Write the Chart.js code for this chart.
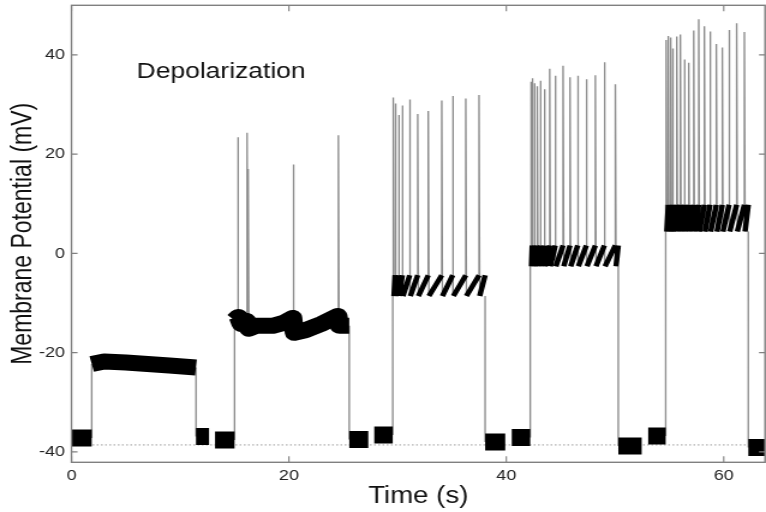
<!DOCTYPE html>
<html>
<head>
<meta charset="utf-8">
<script src="https://cdn.jsdelivr.net/npm/chart.js@4.4.1/dist/chart.umd.min.js"></script>
<style>
  html, body { margin: 0; padding: 0; background: #fff; }
  #wrap { width: 766px; height: 512px; }
  /* the source figure is stretched sideways, so the canvas is drawn narrower and widened */
  #trace { width: 766px; height: 512px; }
</style>
</head>
<body>
<div id="wrap"><canvas id="trace" width="638" height="512" style="width:766px;height:512px"></canvas></div>
<script>
/* --------------- Axes --------------------- */
const xTicks = [0, 20, 40, 60];
const yTicks = [-40, -20, 0, 20, 40];
const xRange = [0, 63.8];
const yRange = [-42.1, 50];
const baselineLevel = -38.6; // dotted reference line

/* --------------- Resting pieces (s, s, mV) --------------------- */
const restStart = [0, 11.45, 13.2, 25.55, 27.85, 38.05, 40.5, 50.3, 53.05, 62.26];
const restEnd = [1.86, 12.65, 15.0, 27.3, 29.55, 39.9, 42.2, 52.45, 54.66, 63.8];
const restLevel = [-37.2, -36.9, -37.6, -37.5, -36.6, -38.0, -37.1, -38.8, -36.8, -39.1];

/* --------------- Current steps --------------------- */
const stepOn = [1.86, 15.0, 29.55, 42.2, 54.66];
const stepOff = [11.45, 25.55, 38.05, 50.3, 62.26];
const plateauCrest = [-22.0, -13.0, -4.4, 1.6, 9.8];
const plateauTrough = [-23.0, -15.5, -8.6, -2.6, 4.4];

/* --------------- Quiet plateaus (no sawtooth) --------------------- */
const quietT = [
  [1.86, 3, 5, 7, 9, 11.45],
  [15.0, 15.35, 15.6, 16.1, 16.3, 17.0, 18.5, 19.5, 20.35, 20.5, 21.5, 23.0, 24.5, 24.65, 25.55],
];
const quietV = [
  [-22.3, -21.8, -22.0, -22.3, -22.6, -23.0],
  [-13.5, -12.8, -14.2, -13.6, -15.2, -14.6, -14.6, -14.0, -13.0, -16.0, -15.5, -14.2, -12.6, -14.6, -14.6],
];

/* --------------- Spikes (s, mV) --------------------- */
const spikeT = [
  15.3, 16.15, 16.25, 20.4, 24.55,
  29.6, 29.79, 30.1, 30.43, 31.11, 31.85, 32.82, 34.06, 35.07, 36.27, 37.49,
  42.25, 42.38, 42.58, 42.85, 43.13, 43.5, 43.99, 44.5, 45.22, 45.86, 46.57, 47.36, 48.19, 49.02, 50.03,
  54.7, 54.9, 55.12, 55.3, 55.68, 56.01, 56.38, 56.78, 57.24, 57.7, 58.22, 58.74, 59.32, 59.87, 60.49, 61.19, 61.9,
];
const spikePeak = [
  23.4, 24.3, 17.0, 17.9, 23.8,
  31.4, 30.2, 27.9, 29.8, 31.0, 28.1, 28.7, 30.8, 31.7, 31.2, 31.9,
  34.6, 35.3, 34.3, 33.7, 34.8, 33.1, 37.2, 35.8, 37.8, 35.5, 35.8, 35.1, 35.9, 38.5, 34.1,
  43.0, 43.8, 43.5, 41.3, 43.7, 44.1, 39.1, 38.4, 44.9, 47.2, 45.8, 44.7, 42.2, 41.5, 45.0, 46.4, 44.6,
];

/* --------------- Build line data --------------------- */
const plateauOf = (t) => stepOn.findIndex((on, p) => t >= on && t <= stepOff[p]);
const restBefore = (t) => restLevel[restEnd.findIndex((e) => Math.abs(e - t) < 0.01)];
const restAfter = (t) => restLevel[restStart.findIndex((s) => Math.abs(s - t) < 0.01)];

// thick black band for the noisy resting parts
const restBand = [];
restStart.forEach((s, i) => {
  restBand.push({ x: s, y: restLevel[i] }, { x: restEnd[i], y: restLevel[i] }, { x: restEnd[i], y: null });
});

// thick band for the quiet plateaus
const quietBand = [];
quietT.forEach((ts, p) => {
  ts.forEach((t, k) => quietBand.push({ x: t, y: quietV[p][k] }));
  quietBand.push({ x: ts[ts.length - 1], y: null });
});

// sawtooth for the firing plateaus: one rising stroke after each spike
const sawBand = [];
for (let p = 2; p < stepOn.length; p++) {
  const times = spikeT.filter((t) => plateauOf(t) === p);
  times.forEach((t, k) => {
    const next = k + 1 < times.length ? times[k + 1] : stepOff[p];
    sawBand.push({ x: t + 0.06, y: plateauTrough[p] }, { x: next, y: plateauCrest[p] }, { x: next, y: null });
  });
}

// thin lines: steps and spikes
const thin = [];
stepOn.forEach((on, p) => {
  const startLvl = p < 2 ? quietV[p][0] : plateauCrest[p];
  const endLvl = p < 2 ? quietV[p][quietV[p].length - 1] : plateauTrough[p];
  thin.push({ x: on, y: restBefore(on) }, { x: on, y: startLvl }, { x: on, y: null });
  thin.push({ x: stepOff[p], y: endLvl }, { x: stepOff[p], y: restAfter(stepOff[p]) }, { x: stepOff[p], y: null });
});
spikeT.forEach((t, i) => {
  const p = plateauOf(t);
  thin.push({ x: t, y: plateauCrest[p] }, { x: t, y: spikePeak[i] }, { x: t + 0.06, y: plateauTrough[p] }, { x: t + 0.06, y: null });
});

/* --------------- Frame, inner ticks, label --------------------- */
const framePlugin = {
  id: "frame",
  afterDraw(chart) {
    const { ctx, chartArea: a, scales } = chart;
    ctx.save();
    ctx.strokeStyle = "#808080";
    ctx.lineWidth = 1.4;
    ctx.strokeRect(a.left, a.top, a.right - a.left, a.bottom - a.top);
    ctx.lineWidth = 1.1;
    ctx.beginPath();
    xTicks.forEach((v) => {
      const px = scales.x.getPixelForValue(v);
      ctx.moveTo(px, a.bottom); ctx.lineTo(px, a.bottom - 6);
      ctx.moveTo(px, a.top); ctx.lineTo(px, a.top + 6);
    });
    yTicks.forEach((v) => {
      const py = scales.y.getPixelForValue(v);
      ctx.moveTo(a.left, py); ctx.lineTo(a.left + 5, py);
      ctx.moveTo(a.right, py); ctx.lineTo(a.right - 5, py);
    });
    ctx.stroke();
    ctx.fillStyle = "#111";
    ctx.font = "22px 'Liberation Sans', Arial, sans-serif";
    ctx.textAlign = "left";
    ctx.textBaseline = "middle";
    ctx.fillText("Depolarization", scales.x.getPixelForValue(6.0), scales.y.getPixelForValue(36.6));
    ctx.restore();
  },
};

/* --------------- Chart --------------------- */
Chart.defaults.font.family = "'Liberation Sans', Arial, sans-serif";
const tickFont = { size: 15 };

new Chart(document.getElementById("trace"), {
  type: "line",
  plugins: [framePlugin],
  data: {
    datasets: [
      { data: sawBand, borderColor: "#000", borderWidth: 4.5, borderCapStyle: "butt" },
      { data: quietBand, borderColor: "#000", borderWidth: 16, borderJoinStyle: "round", borderCapStyle: "butt" },
      { data: restBand, borderColor: "#000", borderWidth: 17, borderCapStyle: "butt" },
      { data: thin, borderColor: "#8c8c8c", borderWidth: 1.35 },
      {
        data: [{ x: xRange[0], y: baselineLevel }, { x: xRange[1], y: baselineLevel }],
        borderColor: "#9a9a9a", borderWidth: 1, borderDash: [1.5, 2],
      },
    ],
  },
  options: {
    responsive: false,
    animation: false,
    events: [],
    spanGaps: false,
    layout: { padding: { top: 5.3, right: 0.8, left: 0, bottom: 0 } },
    elements: { point: { radius: 0 }, line: { tension: 0 } },
    plugins: { legend: { display: false }, tooltip: { enabled: false } },
    scales: {
      x: {
        type: "linear",
        min: xRange[0],
        max: xRange[1],
        afterBuildTicks: (s) => { s.ticks = xTicks.map((v) => ({ value: v })); },
        afterFit: (s) => { s.height = 49.7; s.paddingLeft = 0; s.paddingRight = 0; },
        grid: { display: false, drawTicks: false },
        border: { display: false },
        ticks: { font: tickFont, color: "#222", padding: 5, maxRotation: 0, autoSkip: false },
        title: { display: true, text: "Time (s)", color: "#111", font: { size: 23 }, padding: { top: 0, bottom: 1.5 } },
      },
      y: {
        type: "linear",
        min: yRange[0],
        max: yRange[1],
        afterBuildTicks: (s) => { s.ticks = yTicks.map((v) => ({ value: v })); },
        afterFit: (s) => { s.width = 59.55; s.paddingTop = 0; s.paddingBottom = 0; },
        grid: { display: false, drawTicks: false },
        border: { display: false },
        ticks: { font: tickFont, color: "#222", padding: 5.4, autoSkip: false },
        title: { display: true, text: "Membrane Potential (mV)", color: "#111", font: { size: 23 }, padding: { top: 6.2, bottom: 0 } },
      },
    },
  },
});
</script>
</body>
</html>
